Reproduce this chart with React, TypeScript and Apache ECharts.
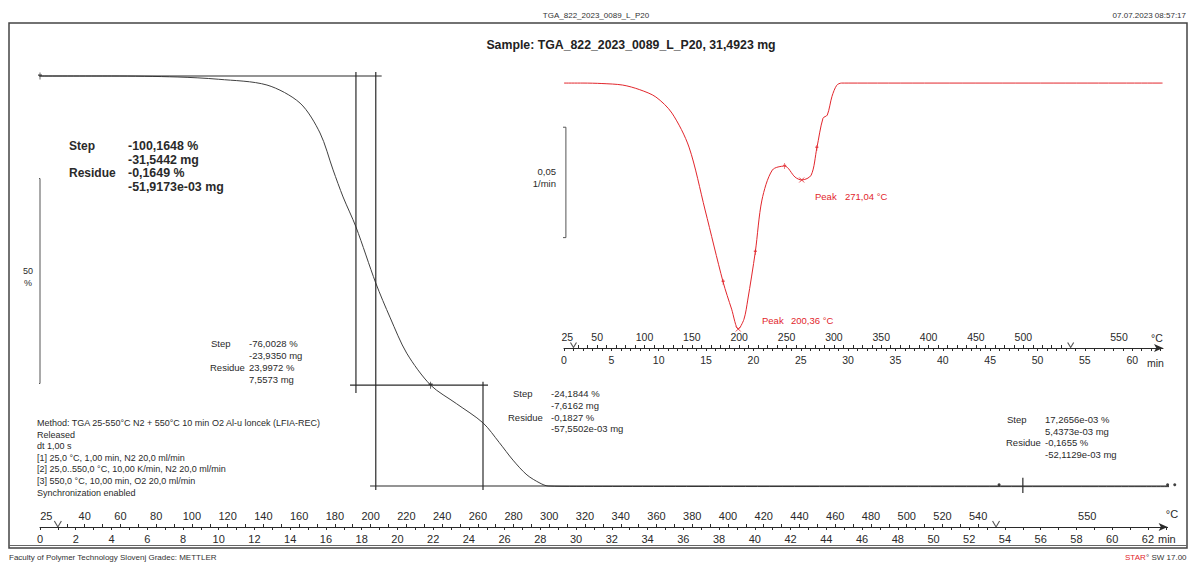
import React, { useEffect, useRef } from "react";
import * as echarts from "echarts";

// ---- TGA curve (time in min, mass in %) ----
const tgaTime = [0, 4, 7.67, 10, 12.7, 14.55, 15.67, 16.4, 16.96, 17.68, 18.79, 19.6, 20.52, 21.86, 23.3, 24.79, 25.7, 26.47, 27.25, 27.98, 28.43, 30, 63.5];
const tgaPct = [100, 100, 99.76, 99.2, 97.8, 93.4, 86.1, 77.1, 70.5, 63.2, 49.5, 41, 32.4, 24.6, 20.1, 15.4, 10.6, 6.3, 2.7, 0.7, 0, -0.1, -0.16];

// ---- DTG curve (time in min, rate in 1/min) ----
const dtgTime = [0, 2, 4, 6.2, 8, 9.7, 11.4, 13.2, 14.9, 16.8, 17.7, 18.4, 19.0, 19.4, 20.2, 20.9, 22.0, 23.3, 24.4, 25.1, 26.1, 26.7, 27.35, 27.8, 28.3, 28.8, 29.3, 30, 63.2];
const dtgRate = [0, 0, -0.0002, -0.0009, -0.003, -0.0063, -0.0136, -0.029, -0.0575, -0.0901, -0.1024, -0.1114, -0.107, -0.0983, -0.0765, -0.053, -0.0394, -0.0376, -0.0426, -0.0439, -0.0417, -0.0294, -0.0159, -0.0145, -0.006, -0.001, 0, 0, 0];

// ---- step evaluation construction lines (time, %) ----
const stepLines = [
  [[-0.39, 100], [19.12, 100]],
  [[17.68, 101], [17.68, 22.7]],
  [[18.79, 101], [18.79, -1]],
  [[17.35, 24.6], [25.07, 24.6]],
  [[24.79, 25.4], [24.79, -1]],
  [[18.47, 0], [63.5, 0]],
  [[55.0, 2], [55.0, -1.7]],
];
const tgaLimitMarks = [[0, 100], [21.86, 24.6]];
const tgaDots = [[53.67, 0.3], [63.1, 0.3], [63.5, 0.3]];
const dtgLimitMarks = [[16.8, -0.0901], [20.2, -0.0765], [23.3, -0.0376], [26.7, -0.0294]];
const dtgPeaks = [[18.4, -0.1114], [25.1, -0.0439]];
const segmentStarts = [1, 53.5];

// ---- tick labels ----
const mainTimeLabels = [0, 2, 4, 6, 8, 10, 12, 14, 16, 18, 20, 22, 24, 26, 28, 30, 32, 34, 36, 38, 40, 42, 44, 46, 48, 50, 52, 54, 56, 58, 60, 62];
const mainTempLabels = [25, 40, 60, 80, 100, 120, 140, 160, 180, 200, 220, 240, 260, 280, 300, 320, 340, 360, 380, 400, 420, 440, 460, 480, 500, 520, 540, 550];
const insetTimeLabels = [0, 5, 10, 15, 20, 25, 30, 35, 40, 45, 50, 55, 60];
const insetTempLabels = [25, 50, 100, 150, 200, 250, 300, 350, 400, 450, 500, 550];

const FONT = "'Liberation Sans', Arial, sans-serif";
const INK = "#2a2a2a";
const RED = "#e2262c";

const tempToTime = (T: number) => (T === 25 ? 0.35 : T === 550 ? 58.6 : 1 + (T - 25) / 10);

function range(a: number, b: number, s: number) {
  const r: number[] = [];
  for (let v = a; v <= b + 1e-9; v += s) r.push(+v.toFixed(4));
  return r;
}

function timeAxis(grid: number, max: number, labels: number[], fs: number) {
  return {
    type: "value", gridIndex: grid, min: 0, max, position: "bottom",
    axisLine: { show: true, onZero: false, symbol: ["none", "arrow"], symbolSize: [6, 9], lineStyle: { color: INK, width: 1 } },
    axisTick: { show: true, customValues: range(0, Math.floor(max), 1), length: 3, lineStyle: { color: INK, width: 1 } },
    axisLabel: { show: true, customValues: labels, margin: 6, fontSize: fs, fontFamily: FONT, color: INK, formatter: (v: number) => String(Math.round(v)) },
    splitLine: { show: false },
  };
}

function tempAxis(grid: number, max: number, labels: number[], fs: number) {
  const pos = labels.map(tempToTime);
  const map: Record<string, string> = {};
  labels.forEach((T, i) => (map[pos[i].toFixed(3)] = String(T)));
  return {
    type: "value", gridIndex: grid, min: 0, max, position: "bottom",
    axisLine: { show: false, onZero: false },
    axisTick: { show: true, inside: true, customValues: range(30, 540, 10).map(tempToTime), length: 3, lineStyle: { color: INK, width: 1 } },
    axisLabel: { show: true, inside: true, customValues: pos, margin: 6, fontSize: fs, fontFamily: FONT, color: INK, formatter: (v: number) => map[v.toFixed(3)] ?? "" },
    splitLine: { show: false },
  };
}

const strokeSym = (color: string) => ({ color: "none", borderColor: color, borderWidth: 1 });

function txt(text: string, x: number, y: number, size: number, opts: any = {}) {
  return {
    type: "text", x, y, silent: true,
    style: { text, fontSize: size, fontFamily: FONT, fontWeight: opts.bold ? "bold" : "normal", fill: opts.color || INK, align: opts.align || "left", verticalAlign: "middle" },
  };
}

export default function App() {
  const ref = useRef<HTMLDivElement>(null);
  useEffect(() => {
    document.body.style.margin = "0";
    const chart = echarts.init(ref.current!, null, { renderer: "svg" });
    const series: any[] = [];
    series.push({
      type: "line", xAxisIndex: 0, yAxisIndex: 0, data: tgaTime.map((t, i) => [t, tgaPct[i]]),
      showSymbol: false, smooth: 0.3, clip: false, lineStyle: { color: "#404040", width: 1 },
    });
    stepLines.forEach((seg) => series.push({
      type: "line", xAxisIndex: 0, yAxisIndex: 0, data: seg, showSymbol: false, clip: false,
      lineStyle: { color: INK, width: 1.2 },
    }));
    // scale bar 50 %
    series.push({
      type: "line", xAxisIndex: 0, yAxisIndex: 0, clip: false, showSymbol: false,
      data: [[-0.22, 75], [0, 75], [0, 25], [-0.22, 25]], lineStyle: { color: "#555", width: 1 },
    });
    series.push({
      type: "scatter", xAxisIndex: 0, yAxisIndex: 0, data: tgaLimitMarks, clip: false,
      symbol: "path://M2,0 L2,8 M0,3 L4,3", symbolSize: [4, 7], itemStyle: strokeSym("#111"),
    });
    series.push({
      type: "scatter", xAxisIndex: 0, yAxisIndex: 0, data: tgaDots, clip: false,
      symbol: "circle", symbolSize: 3, itemStyle: { color: "#111" },
    });
    series.push({
      type: "scatter", xAxisIndex: 0, yAxisIndex: 0, data: segmentStarts.map((t) => [t, -10]), clip: false,
      symbol: "path://M0,0 L3,5 L6,0", symbolSize: [7, 6], symbolOffset: [0, -3], itemStyle: strokeSym(INK),
    });
    // DTG
    series.push({
      type: "line", xAxisIndex: 2, yAxisIndex: 1, data: dtgTime.map((t, i) => [t, dtgRate[i]]),
      showSymbol: false, smooth: 0.3, clip: false, lineStyle: { color: RED, width: 1 },
    });
    series.push({
      type: "scatter", xAxisIndex: 2, yAxisIndex: 1, data: dtgLimitMarks, clip: false,
      symbol: "path://M2,0 L2,8 M0,3 L4,3", symbolSize: [3, 6], itemStyle: strokeSym(RED),
    });
    series.push({
      type: "scatter", xAxisIndex: 2, yAxisIndex: 1, data: dtgPeaks, clip: false,
      symbol: "path://M0,0 L6,6 M6,0 L0,6", symbolSize: 5, itemStyle: strokeSym(RED),
    });
    series.push({
      type: "line", xAxisIndex: 2, yAxisIndex: 1, clip: false, showSymbol: false,
      data: [[-0.4, -0.02], [0.2, -0.02], [0.2, -0.07], [-0.4, -0.07]], lineStyle: { color: "#555", width: 1 },
    });
    series.push({
      type: "scatter", xAxisIndex: 2, yAxisIndex: 1, data: segmentStarts.map((t) => [t, -0.12]), clip: false,
      symbol: "path://M0,0 L3,5 L6,0", symbolSize: [6, 5], symbolOffset: [0, -3], itemStyle: strokeSym(INK),
    });

    const methodLines = [
      "Method: TGA 25-550°C N2 + 550°C 10 min O2 Al-u loncek (LFIA-REC)",
      "Released",
      "dt 1,00 s",
      "[1] 25,0 °C, 1,00 min, N2 20,0 ml/min",
      "[2] 25,0..550,0 °C, 10,00 K/min, N2 20,0 ml/min",
      "[3] 550,0 °C, 10,00 min, O2 20,0 ml/min",
      "Synchronization enabled",
    ];

    const graphic: any[] = [
      { type: "rect", silent: true, shape: { x: 9, y: 23, width: 1178, height: 525 }, style: { fill: "none", stroke: "#444", lineWidth: 1.5 } },
      { type: "line", silent: true, shape: { x1: 9, y1: 545.5, x2: 1187, y2: 545.5 }, style: { stroke: "#666", lineWidth: 1 } },
      txt("TGA_822_2023_0089_L_P20", 596, 15, 8, { align: "center", color: "#333" }),
      txt("07.07.2023 08:57:17", 1186, 15, 8, { align: "right", color: "#333" }),
      txt("Sample: TGA_822_2023_0089_L_P20, 31,4923 mg", 631, 45, 12.3, { align: "center", bold: true, color: "#222" }),
      txt("Step", 69, 146, 12, { bold: true }),
      txt("-100,1648 %", 128, 146, 12.4, { bold: true }),
      txt("-31,5442 mg", 128, 159.5, 12.4, { bold: true }),
      txt("Residue", 69, 173, 12, { bold: true }),
      txt("-0,1649 %", 128, 173, 12.4, { bold: true }),
      txt("-51,9173e-03 mg", 128, 187, 12.4, { bold: true }),
      txt("50", 28, 271, 9, { align: "center" }),
      txt("%", 28, 283, 9, { align: "center" }),
      txt("Step", 211, 343, 9.5),
      txt("-76,0028 %", 249, 343, 9.5),
      txt("-23,9350 mg", 249, 355.5, 9.5),
      txt("Residue", 210, 367, 9.5),
      txt("23,9972 %", 249, 367, 9.5),
      txt("7,5573 mg", 249, 379, 9.5),
      txt("Step", 513, 393, 9.5),
      txt("-24,1844 %", 551, 393, 9.5),
      txt("-7,6162 mg", 551, 405.5, 9.5),
      txt("Residue", 508, 417, 9.5),
      txt("-0,1827 %", 551, 417, 9.5),
      txt("-57,5502e-03 mg", 551, 428.5, 9.5),
      txt("Step", 1007, 419, 9.5),
      txt("17,2656e-03 %", 1045, 419, 9.5),
      txt("5,4373e-03 mg", 1045, 431, 9.5),
      txt("Residue", 1006, 442.5, 9.5),
      txt("-0,1655 %", 1045, 442.5, 9.5),
      txt("-52,1129e-03 mg", 1045, 454, 9.5),
      txt("0,05", 556, 171, 9.5, { align: "right" }),
      txt("1/min", 556, 183, 9.5, { align: "right" }),
      txt("Peak", 815, 196, 9.5, { color: RED }),
      txt("271,04 °C", 845, 196, 9.5, { color: RED }),
      txt("Peak", 762, 320, 9.5, { color: RED }),
      txt("200,36 °C", 791, 320, 9.5, { color: RED }),
      txt("°C", 1172, 514, 11, { align: "center" }),
      txt("min", 1158, 539, 11),
      txt("°C", 1157, 338, 10.5, { align: "center" }),
      txt("min", 1147, 363, 10.5),
      txt("Faculty of Polymer Technology Slovenj Gradec: METTLER", 9, 557, 8, { color: "#333" }),
      txt("STAR", 1125, 557, 8, { color: RED }),
      txt("° SW 17.00", 1146, 557, 8, { color: "#333" }),
    ];
    methodLines.forEach((l, i) => graphic.push(txt(l, 37, 423 + i * 11.6, 9)));

    chart.setOption({
      animation: false,
      backgroundColor: "#fff",
      grid: [
        { left: 40, right: 24.4, top: 35, bottom: 35 },
        { left: 564, right: 29, top: 61, bottom: 214 },
      ],
      xAxis: [
        timeAxis(0, 63.1, mainTimeLabels, 11),
        tempAxis(0, 63.1, mainTempLabels, 11),
        timeAxis(1, 63.25, insetTimeLabels, 10.5),
        tempAxis(1, 63.25, insetTempLabels, 10.5),
      ],
      yAxis: [
        { type: "value", gridIndex: 0, min: -10, max: 110, show: false },
        { type: "value", gridIndex: 1, min: -0.12, max: 0.01, show: false },
      ],
      series,
      graphic,
    });
    return () => chart.dispose();
  }, []);
  return <div ref={ref} style={{ width: 1192, height: 562 }} />;
}
